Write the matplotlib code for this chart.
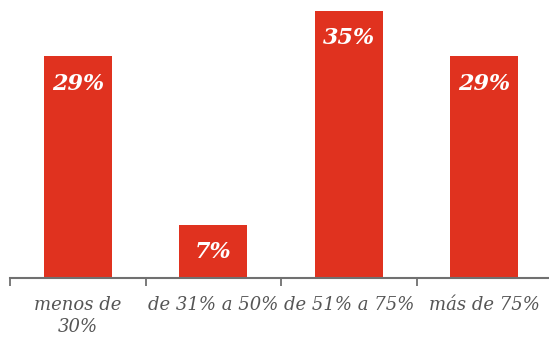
import matplotlib.pyplot as plt

categories = ["menos de\n30%", "de 31% a 50%", "de 51% a 75%", "más de 75%"]
values = [29, 7, 35, 29]
bar_color = "#e0321f"

fig = plt.figure(figsize=(5.49, 3.47), dpi=100)
ax = fig.add_axes([10 / 549, 1 - 278 / 347, 542 / 549, 272 / 347])

x = range(len(values))
bars = ax.bar(x, values, width=0.5, color=bar_color, zorder=2)
for b, v in zip(bars, values):
    ax.text(b.get_x() + b.get_width() / 2, v - 3.6, f"{v}%",
            ha="center", va="center", color="white", fontsize=16,
            fontweight="bold", fontstyle="italic", family="DejaVu Serif")

ax.set_xlim(-0.5, len(values) - 0.5)
ax.set_ylim(0, 35.6)

for side in ["top", "right", "left"]:
    ax.spines[side].set_visible(False)
ax.spines["bottom"].set_color("#707070")
ax.spines["bottom"].set_linewidth(1.5)
ax.set_yticks([])

# boundary ticks between categories
ax.set_xticks([i - 0.5 for i in range(len(values) + 1)])
ax.set_xticklabels([])
ax.tick_params(axis="x", length=6, width=1.3, color="#707070", direction="out")
ax.set_xticks(list(x), minor=True)
ax.set_xticklabels(categories, minor=True, fontsize=13, fontstyle="italic",
                   family="DejaVu Serif", color="#555555", linespacing=1.3)
ax.tick_params(axis="x", which="minor", length=0, pad=13)

fig.savefig("out.png", dpi=100)
